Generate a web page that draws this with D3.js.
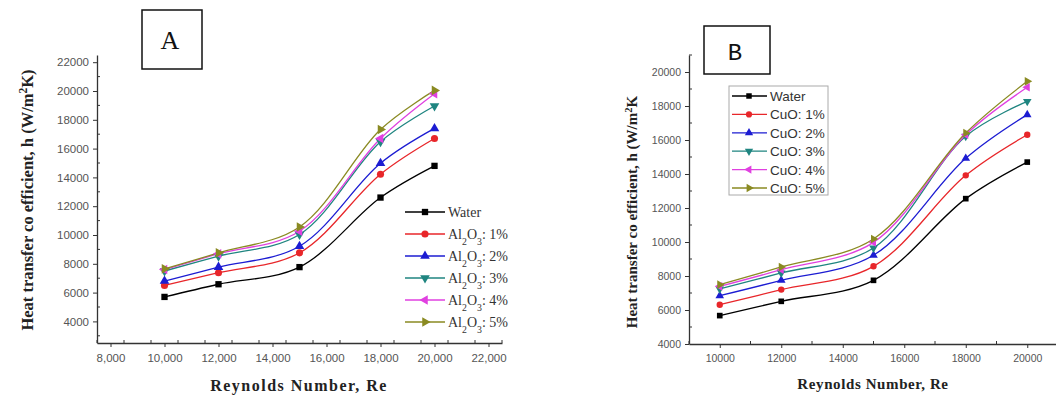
<!DOCTYPE html>
<html>
<head>
<meta charset="utf-8">
<script src="https://cdn.jsdelivr.net/npm/d3@7"></script>
<style>
  body { margin: 0; background: #fff; }
  svg { display: block; }
</style>
</head>
<body>
<svg id="chart" width="1056" height="396"></svg>
<script>
// Reynolds numbers (shared x values)
const reynolds = [10000, 12000, 15000, 18000, 20000];

// Panel A: Al2O3 nanofluid
const waterA = [5700, 6580, 7770, 12600, 14800];
const al1 = [6500, 7380, 8760, 14220, 16700];
const al2 = [6800, 7770, 9220, 14980, 17400];
const al3 = [7500, 8530, 10030, 16480, 18960];
const al4 = [7600, 8700, 10260, 16700, 19810];
const al5 = [7650, 8760, 10560, 17330, 20040];
const pctLabels = ["1%", "2%", "3%", "4%", "5%"];

// Panel B: CuO nanofluid
const waterB = [5670, 6510, 7745, 12550, 14700];
const cuo1 = [6310, 7200, 8570, 13920, 16310];
const cuo2 = [6840, 7745, 9220, 14920, 17490];
const cuo3 = [7240, 8180, 9650, 16220, 18270];
const cuo4 = [7390, 8370, 9980, 16310, 19100];
const cuo5 = [7490, 8530, 10180, 16410, 19450];

const xTicksA = [8000, 10000, 12000, 14000, 16000, 18000, 20000, 22000];
const yTicksA = [4000, 6000, 8000, 10000, 12000, 14000, 16000, 18000, 20000, 22000];
const xTicksB = [10000, 12000, 14000, 16000, 18000, 20000];
const yTicksB = [4000, 6000, 8000, 10000, 12000, 14000, 16000, 18000, 20000];

const colors = ["#000000", "#e8262a", "#1c1cd2", "#1f8580", "#e040e0", "#8a8a22"];
const rotations = [0, 0, 0, 180, -90, 90];
const shapes = [d3.symbolSquare, d3.symbolCircle, d3.symbolTriangle, d3.symbolTriangle, d3.symbolTriangle, d3.symbolTriangle];

const svg = d3.select('#chart');
const serif = '"Liberation Serif", "Times New Roman", serif';
const sans = '"Liberation Sans", Arial, sans-serif';

function drawPanel(cfg) {
  const g = svg.append('g');
  const x = d3.scaleLinear().domain(cfg.xDomain).range(cfg.xRange);
  const y = d3.scaleLinear().domain(cfg.yDomain).range(cfg.yRange);

  // x axis
  const xAxis = g.append('g')
    .attr('transform', `translate(0,${cfg.yRange[0]})`)
    .call(d3.axisBottom(x).tickValues(cfg.xTicks).tickSize(4).tickSizeOuter(0)
      .tickFormat(cfg.xFormat).tickPadding(7));
  // minor ticks x
  const xMinor = d3.range(cfg.xDomain[0], cfg.xDomain[1] + 1, 1000).filter(v => v % 2000 !== 0);
  xAxis.selectAll('.minor').data(xMinor).enter().append('line')
    .attr('x1', d => x(d)).attr('x2', d => x(d)).attr('y1', 0).attr('y2', -3)
    .attr('stroke', '#333');

  // y axis
  const yAxis = g.append('g')
    .attr('transform', `translate(${cfg.xRange[0]},0)`)
    .call(d3.axisLeft(y).tickValues(cfg.yTicks).tickSize(4).tickSizeOuter(0)
      .tickFormat(d3.format('d')).tickPadding(4));
  const yMinor = d3.range(cfg.yDomain[0], cfg.yDomain[1] + 1, 500).filter(v => v % 1000 === 0 && v % 2000 !== 0);
  yAxis.selectAll('.minor').data(yMinor).enter().append('line')
    .attr('x1', 0).attr('x2', 3).attr('y1', d => y(d)).attr('y2', d => y(d))
    .attr('stroke', '#333');

  [xAxis, yAxis].forEach(a => {
    a.selectAll('path.domain').attr('stroke', '#333').attr('stroke-width', 1.3);
    a.selectAll('.tick line').attr('stroke', '#333');
    a.selectAll('.tick text').attr('fill', '#555')
      .style('font-family', sans).style('font-size', cfg.tickFont);
  });

  // lines
  const line = d3.line().x((d, i) => x(reynolds[i])).y(d => y(d)).curve(d3.curveCatmullRom.alpha(0.5));
  cfg.series.forEach((s, k) => {
    g.append('path').datum(s)
      .attr('fill', 'none').attr('stroke', colors[k]).attr('stroke-width', 1.3)
      .attr('d', line);
  });
  cfg.series.forEach((s, k) => {
    g.selectAll(null).data(s).enter().append('path')
      .attr('d', d3.symbol().type(shapes[k]).size(cfg.markSize))
      .attr('transform', (d, i) => `translate(${x(reynolds[i])},${y(d)}) rotate(${rotations[k]})`)
      .attr('fill', colors[k]);
  });

  // axis titles
  const yl = g.append('text')
    .attr('transform', `translate(${cfg.yLabelX},${cfg.yLabelY}) rotate(-90)`)
    .attr('text-anchor', 'middle')
    .style('font-family', serif).style('font-weight', 'bold').style('font-size', cfg.titleFont)
    .attr('fill', '#222');
  yl.append('tspan').text('Heat transfer co efficient, h (W/m');
  yl.append('tspan').attr('baseline-shift', 'super').style('font-size', '70%').text('2');
  yl.append('tspan').text(cfg.yUnitEnd);

  g.append('text')
    .attr('x', cfg.xLabelX).attr('y', cfg.xLabelY)
    .attr('text-anchor', 'middle')
    .style('font-family', serif).style('font-weight', 'bold').style('font-size', cfg.xTitleFont)
    .style('letter-spacing', cfg.xTitleSpacing)
    .attr('fill', '#222')
    .text('Reynolds Number, Re');

  // label box
  g.append('rect')
    .attr('x', cfg.box[0]).attr('y', cfg.box[1]).attr('width', cfg.box[2]).attr('height', cfg.box[3])
    .attr('fill', 'none').attr('stroke', '#111').attr('stroke-width', 1.5);
  g.append('text')
    .attr('x', cfg.box[0] + cfg.box[2] / 2 - 2).attr('y', cfg.boxTextY)
    .attr('text-anchor', 'middle')
    .style('font-family', cfg.boxFont).style('font-size', cfg.boxSize)
    .attr('fill', '#111')
    .text(cfg.panel);

  return g;
}

// Panel A
const gA = drawPanel({
  panel: 'A', xDomain: [7500, 22500], xRange: [97, 502],
  yDomain: [2500, 22500], yRange: [343, 55],
  xTicks: xTicksA, yTicks: yTicksA, xFormat: d3.format(','),
  series: [waterA, al1, al2, al3, al4, al5], markSize: 40,
  tickFont: '11.5px', titleFont: '16.5px', xTitleFont: '16px', xTitleSpacing: '1.5px',
  yLabelX: 33, yLabelY: 200, yUnitEnd: 'K)',
  xLabelX: 299, xLabelY: 391,
  box: [142, 10, 60, 59], boxTextY: 49, boxFont: serif, boxSize: '26px'
});

// legend A
const legA = gA.append('g');
const legNamesA = ['Water'].concat(pctLabels);
legNamesA.forEach((name, k) => {
  const ly = 212 + k * 22;
  legA.append('line').attr('x1', 405).attr('x2', 445).attr('y1', ly).attr('y2', ly)
    .attr('stroke', colors[k]).attr('stroke-width', 1.3);
  legA.append('path').attr('d', d3.symbol().type(shapes[k]).size(40))
    .attr('transform', `translate(425,${ly}) rotate(${rotations[k]})`).attr('fill', colors[k]);
  const t = legA.append('text').attr('x', 448).attr('y', ly + 4.5)
    .style('font-family', serif).style('font-size', '14px').attr('fill', '#333');
  if (k === 0) {
    t.text(name);
  } else {
    t.append('tspan').text('Al');
    t.append('tspan').attr('baseline-shift', 'sub').style('font-size', '70%').text('2');
    t.append('tspan').text('O');
    t.append('tspan').attr('baseline-shift', 'sub').style('font-size', '70%').text('3');
    t.append('tspan').text(': ' + name);
  }
});

// Panel B
const gB = drawPanel({
  panel: 'B', xDomain: [9000, 21000], xRange: [689, 1058],
  yDomain: [4000, 21000], yRange: [344, 55],
  xTicks: xTicksB, yTicks: yTicksB, xFormat: d3.format('d'),
  series: [waterB, cuo1, cuo2, cuo3, cuo4, cuo5], markSize: 32,
  tickFont: '10.5px', titleFont: '15px', xTitleFont: '15px', xTitleSpacing: '0.6px',
  yLabelX: 637, yLabelY: 212, yUnitEnd: 'K',
  xLabelX: 873, xLabelY: 389,
  box: [704, 26, 66, 48], boxTextY: 60, boxFont: '"Liberation Mono", "Courier New", monospace', boxSize: '24px'
});

// legend B
const legB = gB.append('g');
legB.append('rect').attr('x', 729).attr('y', 86).attr('width', 99).attr('height', 109)
  .attr('fill', 'none').attr('stroke', '#aaa').attr('stroke-width', 1);
legNamesA.forEach((name, k) => {
  const ly = 96 + k * 18.4;
  legB.append('line').attr('x1', 732).attr('x2', 767).attr('y1', ly).attr('y2', ly)
    .attr('stroke', colors[k]).attr('stroke-width', 1.3);
  legB.append('path').attr('d', d3.symbol().type(shapes[k]).size(30))
    .attr('transform', `translate(749,${ly}) rotate(${rotations[k]})`).attr('fill', colors[k]);
  legB.append('text').attr('x', 770).attr('y', ly + 5)
    .style('font-family', sans).style('font-size', '13.5px').attr('fill', '#333')
    .text(k === 0 ? name : 'CuO: ' + name);
});
</script>
</body>
</html>
